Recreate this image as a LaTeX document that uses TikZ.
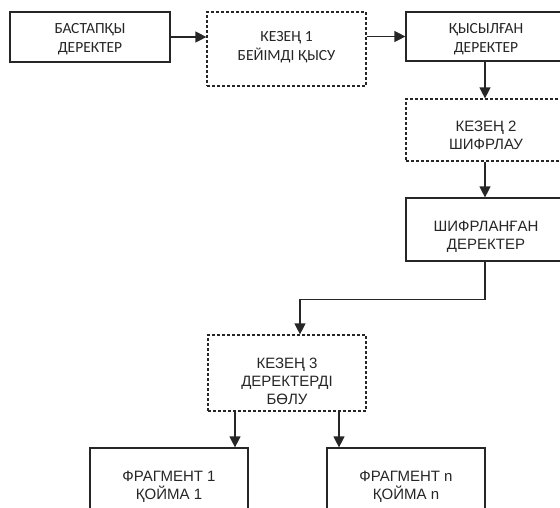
\documentclass[tikz,border=0pt]{standalone}
\usepackage{fontspec}
\setmainfont{Liberation Sans}
\newfontfamily\calfont{Carlito}
\usetikzlibrary{arrows.meta}
\definecolor{ink}{HTML}{262626}
% invisible strut that pushes a node's text block down
\newcommand{\dropby}[1]{\rule{0pt}{#1}}
\tikzset{
  base/.style={draw=ink, line width=1.2pt, rectangle, inner sep=0pt,
    align=center, text=ink, font=\fontsize{15}{18}\selectfont},
  solidbox/.style={base},
  dashbox/.style={base, dash pattern=on 3pt off 2pt},
  calibri/.style={font=\calfont\fontsize{15.5}{19}\selectfont},
  arr/.style={draw=ink, line width=1.2pt, -{Triangle[length=11pt,width=11pt]}},
}
\begin{document}
\begin{tikzpicture}[x=1pt, y=-1pt]
\useasboundingbox (0,0) rectangle (560,507);
\begin{scope}
\clip (0,0) rectangle (560,507);
\node[solidbox, calibri, minimum width=160pt, minimum height=50pt] (b1) at (90,37) {\dropby{14pt}БАСТАПҚЫ\\ДЕРЕКТЕР};
\node[dashbox, calibri, minimum width=159pt, minimum height=74pt] (b2) at (286.5,49) {КЕЗЕҢ 1\\БЕЙІМДІ ҚЫСУ\rule[-6pt]{0pt}{6pt}};
\node[solidbox, calibri, minimum width=160pt, minimum height=49pt] (b3) at (486,36.5) {\dropby{15pt}ҚЫСЫЛҒАН\\ДЕРЕКТЕР};
\node[dashbox, minimum width=160pt, minimum height=62pt] (b4) at (486,130) {\dropby{21pt}КЕЗЕҢ 2\\ШИФРЛАУ};
\node[solidbox, minimum width=160pt, minimum height=63pt] (b5) at (486,229.5) {\dropby{24pt}ШИФРЛАНҒАН\\ДЕРЕКТЕР};
\node[dashbox, minimum width=158pt, minimum height=76pt] (b6) at (287,373) {\dropby{27pt}КЕЗЕҢ 3\\ДЕРЕКТЕРДІ\\БӨЛУ};
\node[solidbox, minimum width=158pt, minimum height=63pt] (b7) at (169,479.5) {\dropby{24pt}ФРАГМЕНТ 1\\ҚОЙМА 1};
\node[solidbox, minimum width=158pt, minimum height=63pt] (b8) at (406,479.5) {\dropby{24pt}ФРАГМЕНТ n\\ҚОЙМА n};

% connector bend points and free ends
\coordinate (t2) at (b1.east -| b2.west);
\coordinate (s2) at (b3.west -| b2.east);
\coordinate (d5) at ([xshift=-1pt, yshift=-38pt]b5.south);
\coordinate (t6) at ([xshift=13pt]b6.north);
\coordinate (s7) at ([xshift=-52pt]b6.south);
\coordinate (s8) at ([xshift=52pt]b6.south);

\draw[arr] (b1.east) -- (t2);
\draw[arr] (s2) -- (b3.west);
\draw[arr] ([xshift=-1pt]b3.south) -- ([xshift=-1pt]b4.north);
\draw[arr] ([xshift=-1pt]b4.south) -- ([xshift=-1pt]b5.north);
\draw[arr] ([xshift=-1pt]b5.south) -- (d5) -| (t6);
\draw[arr] (s7) -- (s7 |- b7.north);
\draw[arr] (s8) -- (s8 |- b8.north);
\end{scope}
\end{tikzpicture}
\end{document}
